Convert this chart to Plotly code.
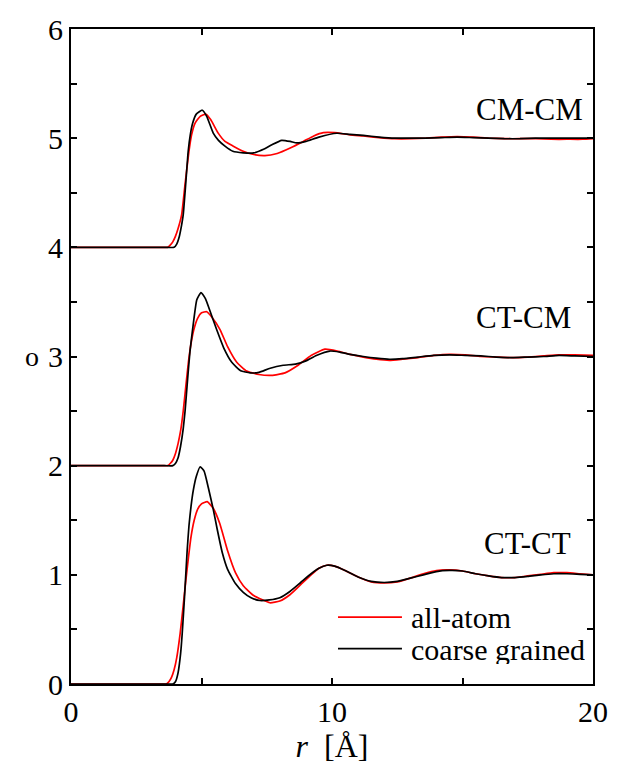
import plotly.graph_objects as go

# ---------------- data ----------------
# CT-CT (offset 0)
ctct_aa_r = [0, 3.5, 3.65, 3.75, 3.85, 3.95, 4.05, 4.18, 4.3, 4.4, 4.5, 4.6, 4.72, 4.85, 5.0, 5.22, 5.45,
             5.7, 6.0, 6.3, 6.6, 7.0, 7.62, 8.0, 8.4, 8.8, 9.2, 9.5, 9.8, 10.1, 10.5, 11.0, 11.5,
             12.0, 12.5, 13.0, 13.5, 14.0, 14.5, 15.0, 15.5, 16.0, 16.5, 17.0, 17.5, 18.0, 18.5, 19.0, 19.5, 20.0]
ctct_aa_g = [0, 0, 0, 0.02, 0.06, 0.13, 0.24, 0.46, 0.72, 0.95, 1.16, 1.35, 1.5, 1.6, 1.65, 1.67, 1.61,
             1.47, 1.22, 1.02, 0.9, 0.81, 0.744, 0.76, 0.82, 0.91, 1.0, 1.06, 1.088, 1.08, 1.04, 0.98, 0.935,
             0.925, 0.935, 0.97, 1.01, 1.04, 1.045, 1.035, 1.01, 0.99, 0.975, 0.975, 0.99, 1.005, 1.02, 1.02, 1.01, 1.0]
ctct_cg_r = [0, 3.6, 3.9, 4.0, 4.1, 4.2, 4.26, 4.35, 4.45, 4.52, 4.6, 4.69, 4.8, 4.95, 5.1, 5.26, 5.45,
             5.6, 5.8, 6.0, 6.3, 6.6, 6.9, 7.24, 7.6, 8.0, 8.4, 8.8, 9.2, 9.5, 9.8, 10.1, 10.5, 11.0, 11.5,
             12.0, 12.5, 13.0, 13.5, 14.0, 14.5, 15.0, 15.5, 16.0, 16.5, 17.0, 17.5, 18.0, 18.5, 19.0, 19.5, 20.0]
ctct_cg_g = [0, 0, 0, 0.02, 0.1, 0.28, 0.46, 0.8, 1.22, 1.45, 1.63, 1.78, 1.9, 1.99, 1.95, 1.8, 1.6,
             1.42, 1.2, 1.05, 0.92, 0.84, 0.79, 0.765, 0.77, 0.79, 0.85, 0.93, 1.01, 1.06, 1.088, 1.08, 1.04, 0.98, 0.94,
             0.93, 0.94, 0.97, 1.0, 1.03, 1.04, 1.035, 1.01, 0.99, 0.975, 0.975, 0.985, 1.0, 1.01, 1.01, 1.005, 1.0]

# CT-CM (offset 2)
ctcm_aa_r = [0, 3.5, 3.7, 3.8, 3.9, 4.0, 4.1, 4.2, 4.3, 4.4, 4.5, 4.6, 4.71, 4.85, 5.0, 5.2, 5.4,
             5.71, 6.0, 6.35, 6.7, 7.2, 7.69, 8.2, 8.7, 9.2, 9.73, 10.2, 10.69, 11.2, 11.7, 12.2, 12.7,
             13.3, 13.9, 14.5, 15.1, 15.7, 16.3, 16.9, 17.5, 18.1, 18.7, 19.3, 20.0]
ctcm_aa_g = [0, 0, 0, 0.02, 0.05, 0.11, 0.2, 0.32, 0.5, 0.73, 0.95, 1.12, 1.25, 1.35, 1.4, 1.41, 1.36,
             1.247, 1.09, 0.947, 0.87, 0.835, 0.827, 0.85, 0.92, 1.01, 1.067, 1.05, 1.02, 0.995, 0.975, 0.965, 0.975,
             0.99, 1.01, 1.02, 1.015, 1.0, 0.995, 0.99, 0.995, 1.005, 1.015, 1.015, 1.01]
ctcm_cg_r = [0, 3.6, 3.9, 4.0, 4.1, 4.2, 4.3, 4.37, 4.47, 4.56, 4.66, 4.82, 4.98, 5.15, 5.35, 5.58, 5.85,
             6.16, 6.5, 6.86, 7.2, 7.6, 8.13, 8.6, 9.0, 9.4, 9.92, 10.3, 10.69, 11.2, 11.7, 12.2, 12.7,
             13.3, 13.9, 14.5, 15.1, 15.7, 16.3, 16.9, 17.5, 18.1, 18.7, 19.3, 20.0]
ctcm_cg_g = [0, 0, 0, 0.02, 0.07, 0.18, 0.34, 0.5, 0.8, 1.05, 1.25, 1.52, 1.586, 1.53, 1.4, 1.247, 1.08,
             0.947, 0.87, 0.85, 0.855, 0.89, 0.92, 0.93, 0.96, 1.01, 1.05, 1.04, 1.02, 1.0, 0.985, 0.975, 0.98,
             0.995, 1.01, 1.015, 1.01, 1.005, 0.995, 0.99, 0.995, 1.0, 1.01, 1.005, 1.0]

# CM-CM (offset 4)
cmcm_aa_r = [0, 3.5, 3.7, 3.8, 3.9, 4.0, 4.1, 4.24, 4.37, 4.52, 4.62, 4.75, 4.95, 5.16, 5.35, 5.64, 5.9,
             6.22, 6.6, 7.0, 7.43, 7.9, 8.4, 8.9, 9.3, 9.67, 10.1, 10.69, 11.2, 11.8, 12.4, 13.0, 13.6,
             14.2, 14.8, 15.4, 16.0, 16.6, 17.2, 17.8, 18.4, 19.0, 19.6, 20.0]
cmcm_aa_g = [0, 0, 0, 0.02, 0.05, 0.1, 0.17, 0.3, 0.58, 0.88, 1.03, 1.136, 1.2, 1.22, 1.17, 1.046, 0.97,
             0.927, 0.88, 0.85, 0.84, 0.86, 0.91, 0.97, 1.02, 1.05, 1.05, 1.03, 1.02, 1.005, 0.995, 0.995, 1.0,
             1.01, 1.015, 1.01, 1.0, 0.995, 0.995, 0.995, 0.99, 0.99, 0.99, 0.995]
cmcm_cg_r = [0, 3.6, 3.95, 4.05, 4.15, 4.22, 4.3, 4.4, 4.49, 4.57, 4.66, 4.8, 5.03, 5.2, 5.45, 5.65, 5.9,
             6.2, 6.6, 7.0, 7.4, 7.7, 8.07, 8.4, 8.65, 9.0, 9.5, 10.18, 10.69, 11.2, 11.8, 12.4, 13.0,
             13.6, 14.2, 14.8, 15.4, 16.0, 16.6, 17.2, 17.8, 18.4, 19.0, 19.6, 20.0]
cmcm_cg_g = [0, 0, 0, 0.03, 0.1, 0.18, 0.3, 0.597, 0.88, 1.03, 1.136, 1.22, 1.256, 1.2, 1.046, 0.98, 0.927,
             0.88, 0.866, 0.865, 0.9, 0.94, 0.98, 0.97, 0.956, 0.97, 1.01, 1.045, 1.035, 1.025, 1.01, 1.0, 1.0,
             1.0, 1.005, 1.01, 1.005, 1.0, 0.995, 0.995, 1.0, 1.0, 1.0, 1.0, 1.0]

pair_labels = ["CT-CT", "CT-CM", "CM-CM"]
offsets = [0, 2, 4]
series_names = ["all-atom", "coarse grained"]
series_colors = ["#ff0000", "#000000"]

x_tick_vals = [0, 10, 20]
y_tick_vals = [0, 1, 2, 3, 4, 5, 6]

# ---------------- figure ----------------
FONT = "Liberation Serif, Times New Roman, serif"
fig = go.Figure()

datasets = [
    (ctct_aa_r, ctct_aa_g, ctct_cg_r, ctct_cg_g),
    (ctcm_aa_r, ctcm_aa_g, ctcm_cg_r, ctcm_cg_g),
    (cmcm_aa_r, cmcm_aa_g, cmcm_cg_r, cmcm_cg_g),
]
for (ar, ag, cr, cg), off in zip(datasets, offsets):
    for r, g, name, col in [(ar, ag, series_names[0], series_colors[0]),
                            (cr, cg, series_names[1], series_colors[1])]:
        fig.add_trace(go.Scatter(
            x=r, y=[v + off for v in g], mode="lines", name=name,
            line=dict(color=col, width=1.7, shape="spline", smoothing=0.45),
            showlegend=False, hoverinfo="skip"))

# pair labels
label_pos = [(19.25, 1.29), (19.25, 3.355), (19.69, 5.26)]
for lab, (lx, ly) in zip(pair_labels, label_pos):
    fig.add_annotation(x=lx, y=ly, text=lab, showarrow=False, xanchor="right", yanchor="middle",
                       font=dict(family=FONT, size=31, color="black"))

# manual legend
leg_y = [0.612, 0.324]
for name, col, ly in zip(series_names, series_colors, leg_y):
    fig.add_shape(type="line", x0=10.23, x1=12.68, y0=ly, y1=ly, xref="x", yref="y",
                  line=dict(color=col, width=1.7))
    fig.add_annotation(x=13.0, y=ly, text=name, showarrow=False, xanchor="left", yanchor="middle",
                       height=30, valign="middle", borderpad=0,
                       font=dict(family=FONT, size=30, color="black"))

# y-axis title glyph
fig.add_annotation(x=-0.075, y=0.5, xref="paper", yref="paper", text="o", showarrow=False,
                   xanchor="center", yanchor="middle", font=dict(family=FONT, size=28, color="black"))

axis_common = dict(showline=True, linecolor="black", linewidth=2, mirror="ticks",
                   ticks="inside", ticklen=6, tickwidth=2, tickcolor="black",
                   showgrid=False, zeroline=False,
                   tickfont=dict(family=FONT, size=30, color="black"))

fig.update_layout(
    width=628, height=766,
    margin=dict(l=71, r=35, t=24, b=75),
    paper_bgcolor="white", plot_bgcolor="white",
    xaxis=dict(range=[0, 20], tickvals=x_tick_vals,
               minor=dict(dtick=5, ticks="inside", ticklen=6, tickwidth=2, tickcolor="black", showgrid=False),
               title=dict(text="<i>r</i>  [Å]", font=dict(family=FONT, size=32, color="black"), standoff=4),
               **axis_common),
    yaxis=dict(range=[0, 6], tickvals=y_tick_vals,
               minor=dict(dtick=0.5, ticks="inside", ticklen=6, tickwidth=2, tickcolor="black", showgrid=False),
               **axis_common),
    showlegend=False,
)

fig.write_html("out.html")
